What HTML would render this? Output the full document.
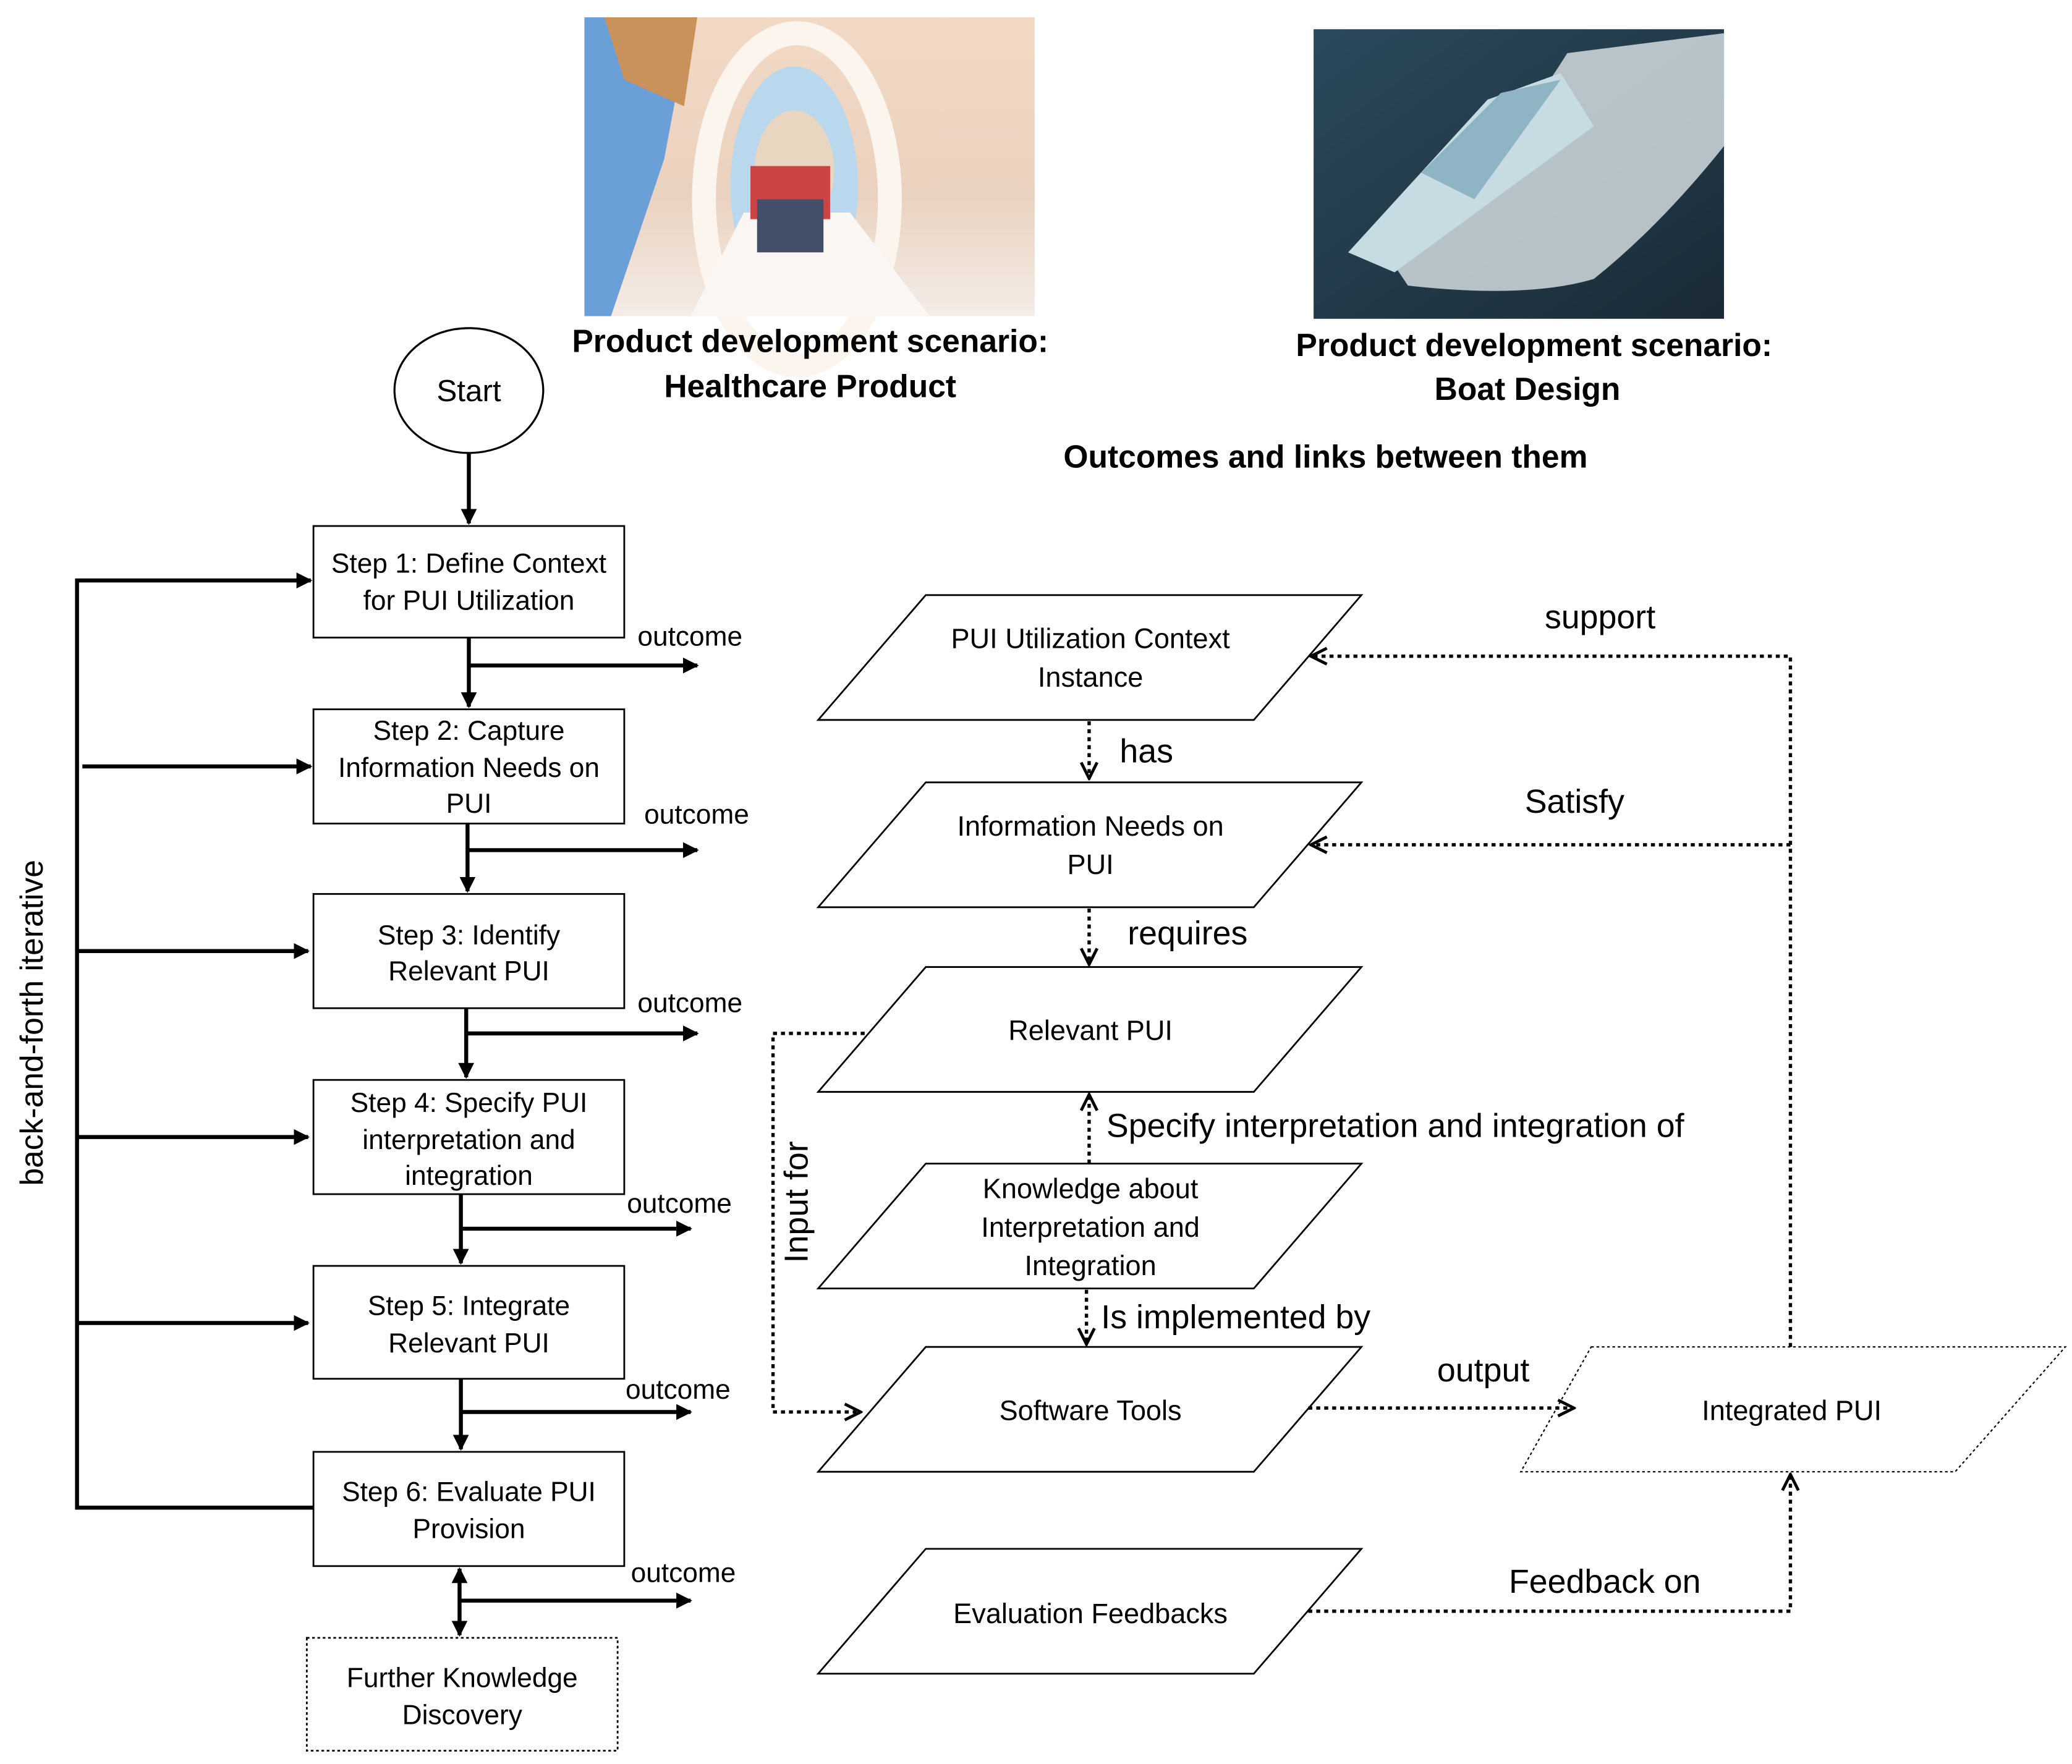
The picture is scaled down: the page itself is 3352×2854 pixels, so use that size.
<!DOCTYPE html>
<html><head><meta charset="utf-8"><style>
html,body{margin:0;padding:0;background:#fff;}
svg{display:block;}
text{font-family:"Liberation Sans",sans-serif;fill:#000;}
</style></head><body>
<svg width="3352" height="2854" viewBox="0 0 1560 1328" preserveAspectRatio="none" xmlns="http://www.w3.org/2000/svg">
<defs>
<marker id="a" viewBox="0 0 10 10" refX="9" refY="5" markerWidth="4" markerHeight="4" orient="auto-start-reverse"><path d="M0,0L10,5L0,10z" fill="#000"/></marker>
<marker id="d" viewBox="0 0 10 10" refX="9" refY="5" markerWidth="6" markerHeight="6" orient="auto-start-reverse"><path d="M1,1L9,5L1,9" fill="none" stroke="#000" stroke-width="1.5"/></marker>
<linearGradient id="mri" x1="0" y1="0" x2="0" y2="1"><stop offset="0" stop-color="#f2d9c4"/><stop offset="0.6" stop-color="#ead2c0"/><stop offset="1" stop-color="#f4ece6"/></linearGradient>
<linearGradient id="sea" x1="0" y1="0" x2="1" y2="1"><stop offset="0" stop-color="#2b4a5c"/><stop offset="1" stop-color="#1a2a36"/></linearGradient>
</defs>
<!-- photo 1 -->
<rect x="440" y="13" width="339" height="225" fill="url(#mri)"/>
<ellipse cx="600" cy="150" rx="70" ry="125" fill="none" stroke="#fbf5ee" stroke-width="18"/>
<ellipse cx="598" cy="140" rx="48" ry="90" fill="#b9d8ee"/>
<ellipse cx="598" cy="128" rx="30" ry="45" fill="#e9d6c0"/>
<path d="M520,238 L560,160 L640,160 L700,238z" fill="#faf6f3"/>
<rect x="565" y="125" width="60" height="40" fill="#c44"/>
<rect x="570" y="150" width="50" height="40" fill="#44506a"/>
<path d="M440,13 L520,13 L500,120 L460,238 L440,238z" fill="#6b9fd8"/>
<path d="M455,13 L525,13 L515,80 L470,60z" fill="#c9925a"/>
<!-- photo 2 -->
<rect x="989" y="22" width="309" height="218" fill="url(#sea)"/>
<path d="M1050,200 Q1130,120 1180,40 L1298,25 L1298,110 Q1250,170 1200,210 Q1150,225 1060,215z" fill="#dde6ea" opacity="0.8"/>
<path d="M1015,190 L1120,75 L1175,55 L1200,95 L1050,205z" fill="#c7dbe2"/>
<path d="M1070,130 L1130,70 L1175,60 L1110,150z" fill="#8fb4c4"/>
<!-- captions -->
<g font-weight="bold" font-size="24" text-anchor="middle">
<text x="610" y="265">Product development scenario:</text>
<text x="610" y="299">Healthcare Product</text>
<text x="1155" y="268">Product development scenario:</text>
<text x="1150" y="301">Boat Design</text>
<text x="998" y="352">Outcomes and links between them</text>
</g>
<!-- start -->
<ellipse cx="353" cy="294" rx="56" ry="47" fill="#fff" stroke="#000" stroke-width="1.5"/>
<text x="353" y="302" font-size="23" text-anchor="middle">Start</text>
<g stroke="#000" stroke-width="3" fill="none">
<line x1="353" y1="341" x2="353" y2="394" marker-end="url(#a)"/>
<line x1="353" y1="480" x2="353" y2="532" marker-end="url(#a)"/>
<line x1="352" y1="620" x2="352" y2="671" marker-end="url(#a)"/>
<line x1="351" y1="759" x2="351" y2="811" marker-end="url(#a)"/>
<line x1="347" y1="899" x2="347" y2="951" marker-end="url(#a)"/>
<line x1="347" y1="1038" x2="347" y2="1091" marker-end="url(#a)"/>
<line x1="346" y1="1181" x2="346" y2="1231" marker-start="url(#a)" marker-end="url(#a)"/>
<line x1="353" y1="501" x2="525" y2="501" marker-end="url(#a)"/>
<line x1="352" y1="640" x2="525" y2="640" marker-end="url(#a)"/>
<line x1="351" y1="778" x2="525" y2="778" marker-end="url(#a)"/>
<line x1="347" y1="925" x2="520" y2="925" marker-end="url(#a)"/>
<line x1="347" y1="1063" x2="520" y2="1063" marker-end="url(#a)"/>
<line x1="346" y1="1205" x2="520" y2="1205" marker-end="url(#a)"/>
<polyline points="236,1135 58,1135 58,437 234,437" marker-end="url(#a)"/>
<line x1="62" y1="577" x2="234" y2="577" marker-end="url(#a)"/>
<line x1="58" y1="716" x2="232" y2="716" marker-end="url(#a)"/>
<line x1="58" y1="856" x2="232" y2="856" marker-end="url(#a)"/>
<line x1="58" y1="996" x2="232" y2="996" marker-end="url(#a)"/>
</g>
<g fill="#fff" stroke="#000" stroke-width="1.3">
<rect x="236" y="396" width="234" height="84"/>
<rect x="236" y="534" width="234" height="86"/>
<rect x="236" y="673" width="234" height="86"/>
<rect x="236" y="813" width="234" height="86"/>
<rect x="236" y="953" width="234" height="85"/>
<rect x="236" y="1093" width="234" height="86"/>
<rect x="231" y="1233" width="234" height="85" stroke-dasharray="2,2"/>
</g>
<g font-size="20.6" text-anchor="middle">
<text x="353" y="431">Step 1: Define Context</text><text x="353" y="459">for PUI Utilization</text>
<text x="353" y="557">Step 2: Capture</text><text x="353" y="585">Information Needs on</text><text x="353" y="612">PUI</text>
<text x="353" y="711">Step 3: Identify</text><text x="353" y="738">Relevant PUI</text>
<text x="353" y="837">Step 4: Specify PUI</text><text x="353" y="865">interpretation and</text><text x="353" y="892">integration</text>
<text x="353" y="990">Step 5: Integrate</text><text x="353" y="1018">Relevant PUI</text>
<text x="353" y="1130">Step 6: Evaluate PUI</text><text x="353" y="1158">Provision</text>
<text x="348" y="1270">Further Knowledge</text><text x="348" y="1298">Discovery</text>
</g>
<g font-size="20.6">
<text x="480" y="486">outcome</text><text x="485" y="620">outcome</text><text x="480" y="762">outcome</text>
<text x="472" y="913">outcome</text><text x="471" y="1053">outcome</text><text x="475" y="1191">outcome</text>
</g>
<text transform="translate(32,770) rotate(-90)" font-size="24" text-anchor="middle">back-and-forth iterative</text>
<!-- parallelograms -->
<g fill="#fff" stroke="#000" stroke-width="1.3">
<polygon points="697,448 1025,448 944,542 616,542"/>
<polygon points="697,589 1025,589 944,683 616,683"/>
<polygon points="697,728 1025,728 944,822 616,822"/>
<polygon points="697,876 1025,876 944,970 616,970"/>
<polygon points="697,1014 1025,1014 944,1108 616,1108"/>
<polygon points="697,1166 1025,1166 944,1260 616,1260"/>
<polygon points="1198,1014 1555,1014 1472,1108 1145,1108" stroke-dasharray="2,2" stroke-width="1"/>
</g>
<g font-size="21" text-anchor="middle">
<text x="821" y="488">PUI Utilization Context</text><text x="821" y="517">Instance</text>
<text x="821" y="629">Information Needs on</text><text x="821" y="658">PUI</text>
<text x="821" y="783">Relevant PUI</text>
<text x="821" y="902">Knowledge about</text><text x="821" y="931">Interpretation and</text><text x="821" y="960">Integration</text>
<text x="821" y="1069">Software Tools</text>
<text x="821" y="1222">Evaluation Feedbacks</text>
<text x="1349" y="1069">Integrated PUI</text>
</g>
<g stroke="#000" stroke-width="2.5" fill="none" stroke-dasharray="3,3">
<line x1="820" y1="543" x2="820" y2="586" marker-end="url(#d)"/>
<line x1="820" y1="684" x2="820" y2="726" marker-end="url(#d)"/>
<line x1="820" y1="876" x2="820" y2="824" marker-end="url(#d)"/>
<line x1="818" y1="971" x2="818" y2="1012" marker-end="url(#d)"/>
<line x1="985" y1="1060" x2="1185" y2="1060" marker-end="url(#d)"/>
<polyline points="985,1213 1348,1213 1348,1110" marker-end="url(#d)"/>
<polyline points="1348,1014 1348,494 987,494" marker-end="url(#d)"/>
<line x1="1348" y1="636" x2="987" y2="636" marker-end="url(#d)"/>
<polyline points="651,778 582,778 582,1063 648,1063" marker-end="url(#d)"/>
</g>
<g font-size="25">
<text x="843" y="574">has</text>
<text x="849" y="711">requires</text>
<text x="833" y="856">Specify interpretation and integration of</text>
<text x="829" y="1000">Is implemented by</text>
<text x="1082" y="1040">output</text>
<text x="1136" y="1199">Feedback on</text>
<text x="1163" y="473">support</text>
<text x="1148" y="612">Satisfy</text>
</g>
<text transform="translate(608,905) rotate(-90)" font-size="25" text-anchor="middle">Input for</text>
</svg>
</body></html>
